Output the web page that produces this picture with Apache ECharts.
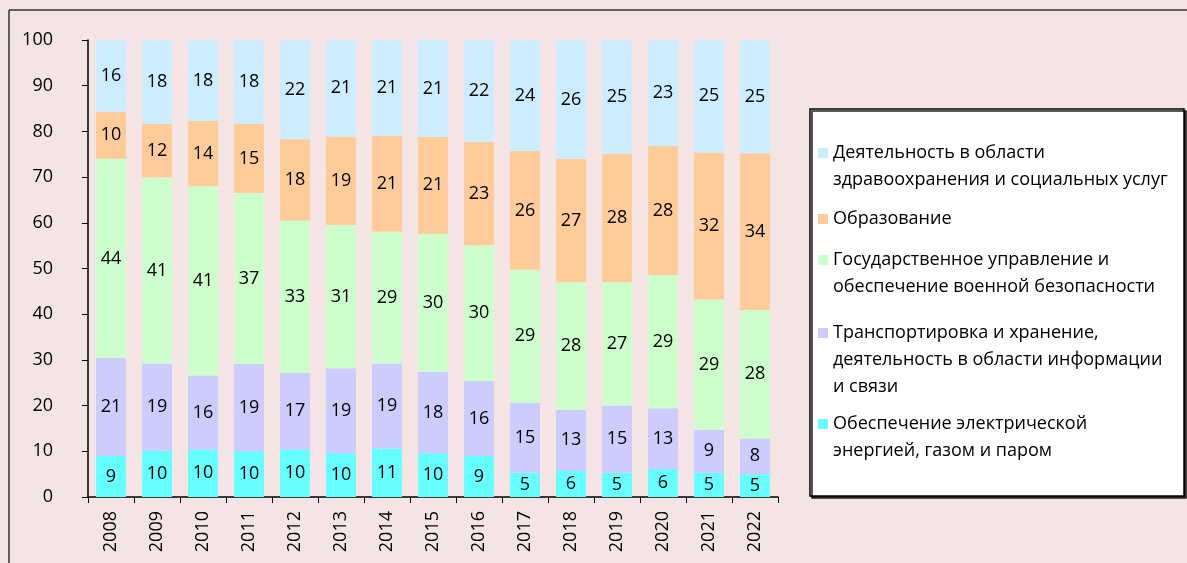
<!DOCTYPE html>
<html><head><meta charset="utf-8">
<script src="https://cdn.jsdelivr.net/npm/echarts@6/dist/echarts.min.js"></script>
<style>html,body{margin:0;padding:0;background:#f5e4e4}#c{width:1187px;height:563px}</style>
</head><body><div id="c"></div>
<script>
const years = ['2008','2009','2010','2011','2012','2013','2014','2015','2016','2017','2018','2019','2020','2021','2022'];
const energy    = [9.0,10.1,10.4,10.0,10.4,9.6,10.6,9.6,9.0,5.3,5.7,5.3,6.1,5.3,5.0];
const transport = [21.4,19.1,16.2,19.1,16.8,18.6,18.6,17.8,16.4,15.3,13.4,14.7,13.3,9.4,7.8];
const govern    = [43.6,40.7,41.4,37.4,33.3,31.3,28.9,30.2,29.7,29.1,27.9,27.0,29.1,28.5,28.1];
const education = [10.3,11.8,14.3,15.1,17.8,19.4,20.9,21.2,22.6,26.0,27.0,28.1,28.3,32.2,34.3];
const health    = [15.7,18.3,17.7,18.4,21.7,21.1,21.0,21.2,22.3,24.3,26.0,24.9,23.2,24.6,24.8];
const yTicks = [0,10,20,30,40,50,60,70,80,90,100];

const names = [
  'Обеспечение электрической энергией, газом и паром',
  'Транспортировка и хранение, деятельность в области информации и связи',
  'Государственное управление и обеспечение военной безопасности',
  'Образование',
  'Деятельность в области здравоохранения и социальных услуг'
];
const legendLines = [
  ['Обеспечение электрической','энергией, газом и паром'],
  ['Транспортировка и хранение,','деятельность в области информации','и связи'],
  ['Государственное управление и','обеспечение военной безопасности'],
  ['Образование'],
  ['Деятельность в области','здравоохранения и социальных услуг']
];
const colors = ['#66ffff','#ccccff','#ccffcc','#ffcc99','#ccecff'];
const dataSets = [energy, transport, govern, education, health];
const legendTops = [410.5, 319.5, 246.5, 205.5, 139.5];

const FONT = '"Open Sans", "Noto Sans", sans-serif';
const LH = 27;

function iconFor(n){
  const H = LH*n;
  return 'path://M0,0L0,0M0,8.5L10,8.5L10,18.5L0,18.5ZM0,'+H+'L0,'+H;
}

const chart = echarts.init(document.getElementById('c'), null, {renderer:'canvas'});
const option = {
  backgroundColor: '#f5e4e4',
  animation: false,
  grid: {left: 88, right: 409, top: 40, bottom: 66},
  xAxis: {
    type: 'category', data: years,
    axisLine: {lineStyle: {color: '#000', width: 1.5}},
    axisTick: {show: true, length: 6, lineStyle: {color: '#000'}},
    axisLabel: {rotate: 90, color: '#000', fontFamily: FONT, fontSize: 18, margin: 14}
  },
  yAxis: {
    type: 'value', min: 0, max: 100, interval: 10,
    axisLine: {show: true, lineStyle: {color: '#000', width: 1.5}},
    axisTick: {show: true, length: 6, lineStyle: {color: '#000'}},
    splitLine: {show: false},
    axisLabel: {color: '#000', fontFamily: FONT, fontSize: 18, margin: 35,
      formatter: v => yTicks.includes(v) ? String(v) : ''}
  },
  legend: names.map((n, i) => ({
    data: [{name: n, icon: iconFor(legendLines[i].length)}],
    left: 818, top: legendTops[i], orient: 'vertical', padding: 0,
    itemWidth: 10, itemHeight: LH*legendLines[i].length,
    selectedMode: false, z: 10,
    formatter: () => legendLines[i].join('\n'),
    textStyle: {color: '#000', fontFamily: FONT, fontSize: 18, lineHeight: LH}
  })),
  graphic: [
    {type: 'line', z: 0, shape: {x1: 9, y1: 10, x2: 1300, y2: 10},
     style: {stroke: '#333', lineWidth: 1.5}},
    {type: 'line', z: 0, shape: {x1: 9, y1: 10, x2: 9, y2: 700},
     style: {stroke: '#333', lineWidth: 1.5}},
    {type: 'rect', z: 1, shape: {x: 810, y: 109, width: 374, height: 387},
     style: {fill: '#fff', stroke: '#000', lineWidth: 1.5, shadowColor: '#222', shadowOffsetX: 2, shadowOffsetY: 2, shadowBlur: 0}}
  ],
  series: dataSets.map((d, i) => ({
    name: names[i], type: 'bar', stack: 'total', data: d, barWidth: 30,
    itemStyle: {color: colors[i]},
    label: {show: true, position: 'inside', color: '#000', fontFamily: FONT, fontSize: 18,
      formatter: p => String(Math.round(p.value))}
  }))
};
chart.setOption(option);
</script></body></html>
